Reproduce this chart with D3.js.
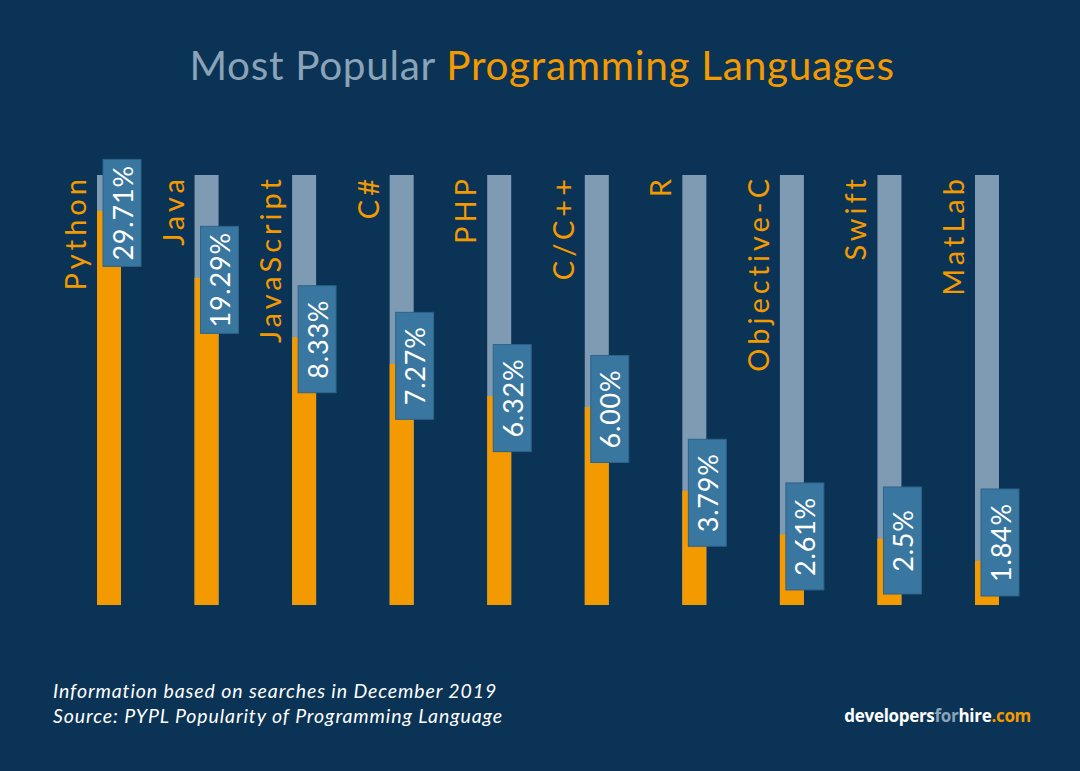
<!DOCTYPE html>
<html><head><meta charset="utf-8">
<script src="https://cdn.jsdelivr.net/npm/d3@7/dist/d3.min.js"></script>
<style>html,body{margin:0;padding:0;background:#0a3355;}svg{display:block;}</style>
</head><body>
<svg id="chart" width="1080" height="771"></svg>
<script>
const languages = ["Python","Java","JavaScript","C#","PHP","C/C++","R","Objective-C","Swift","MatLab"];
const shares = [29.71,19.29,8.33,7.27,6.32,6.00,3.79,2.61,2.5,1.84];
const shareLabels = ["29.71%","19.29%","8.33%","7.27%","6.32%","6.00%","3.79%","2.61%","2.5%","1.84%"];
const titleParts = ["Most Popular ","Programming Languages"];
const footnotes = ["Information based on searches in December 2019","Source: PYPL Popularity of Programming Language"];

const W = 1080, H = 771;
const C = {bg:"#0a3355", track:"#7f9bb3", orange:"#f39a00", box:"#3a77a0", boxEdge:"#2d6389", grey:"#8aa3b8", white:"#ffffff"};
const svg = d3.select("#chart");
svg.append("rect").attr("width",W).attr("height",H).attr("fill",C.bg);

const barW = 24, baseY = 605, topY = 175;
const x = d3.scalePoint().domain(languages).range([97, 975]);
// infographic uses a non-uniform (piecewise) vertical scale
const h = d3.scaleLinear().domain([0,2,4,6,8,20,30]).range([0,48,122,198,266,331,396]);

// title
const title = svg.append("text").attr("x", W/2 + 2).attr("y", 80)
  .attr("text-anchor","middle").attr("font-family","Lato, 'Noto Sans', sans-serif")
  .attr("font-size",40.5).attr("letter-spacing",0.7);
title.append("tspan").attr("fill",C.grey).text(titleParts[0]);
title.append("tspan").attr("fill",C.orange).text(titleParts[1]);

const g = svg.append("g");
const cols = g.selectAll("g.col").data(languages).join("g").attr("class","col");

cols.append("rect").attr("x",d=>x(d)).attr("y",topY).attr("width",barW).attr("height",baseY-topY).attr("fill",C.track);
cols.append("rect").attr("x",d=>x(d)).attr("y",(d,i)=>baseY-h(shares[i])).attr("width",barW)
  .attr("height",(d,i)=>h(shares[i])).attr("fill",C.orange);

// category labels
cols.append("text")
  .attr("transform",d=>`translate(${x(d)-11},${topY}) rotate(-90)`)
  .attr("text-anchor","end").attr("fill",C.orange)
  .attr("font-family","Lato, 'Noto Sans', sans-serif").attr("font-size",29).attr("letter-spacing",4)
  .text(d=>d);

// value boxes
const boxW = 38, boxH = 107;
const boxTop = i => Math.min(baseY - h(shares[i]) - boxH/2 + 2, 596 - boxH);
cols.append("rect").attr("x",d=>x(d)+6).attr("y",(d,i)=>boxTop(i)).attr("width",boxW).attr("height",boxH)
  .attr("fill",C.box).attr("stroke",C.boxEdge).attr("stroke-width",1);
cols.append("text")
  .attr("transform",(d,i)=>`translate(${x(d)+6+boxW/2},${boxTop(i)+boxH/2}) rotate(-90)`)
  .attr("text-anchor","middle").attr("dominant-baseline","central").attr("fill",C.white)
  .attr("font-family","Lato, 'Noto Sans', sans-serif").attr("font-size",27).attr("letter-spacing",0.8)
  .text((d,i)=>shareLabels[i]);

// footnotes
svg.selectAll("text.foot").data(footnotes).join("text").attr("class","foot")
  .attr("x",53).attr("y",(d,i)=>698+i*25).attr("fill",C.white)
  .attr("font-family","Lato, 'Noto Sans', sans-serif").attr("font-style","italic").attr("font-size",19.5)
  .attr("letter-spacing",0.9).text(d=>d);

// logo
const logo = svg.append("text").attr("x",1031).attr("y",722).attr("text-anchor","end")
  .attr("font-family","'Open Sans', Lato, sans-serif").attr("font-weight",700).attr("font-size",17).attr("letter-spacing",-0.3);
logo.append("tspan").attr("fill",C.white).text("developers");
logo.append("tspan").attr("fill",C.grey).text("for");
logo.append("tspan").attr("fill",C.white).text("hire");
logo.append("tspan").attr("fill",C.orange).text(".com");
</script>
</body></html>
